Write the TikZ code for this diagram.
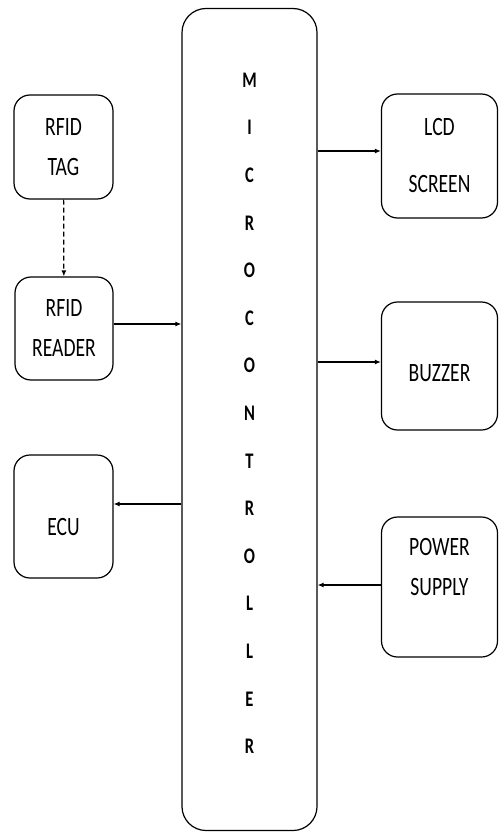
\documentclass[tikz,border=0pt]{standalone}
\usepackage{fontspec}
\usepackage{graphicx}
\setmainfont{Carlito}[BoldFont={Carlito Bold}]
\usetikzlibrary{arrows.meta}

% letters in the drawing are set a little taller than wide
\newcommand{\tall}[1]{\scalebox{1}[1.35]{#1}}

\tikzset{
  block/.style={draw, line width=1.2pt, rounded corners=16pt, align=center,
    inner sep=0pt, font=\fontsize{19.6pt}{40pt}\selectfont},
  micro/.style={draw, line width=1.2pt, rounded corners=24pt},
  letter/.style={font=\fontsize{16.5pt}{18pt}\selectfont\bfseries},
  flow/.style={line width=1.2pt, -{Latex[length=6pt,width=5pt]}},
}

\begin{document}
\begin{tikzpicture}[x=1pt, y=-1pt]
    \useasboundingbox (0,0) rectangle (499,832);

    % Controller column
    \node[micro, minimum width=135pt, minimum height=822pt] (mcu) at (249.5,419.5) {};
    \foreach \ch [count=\i from 0] in {M,I,C,R,O,C,O,N,T,R,O,L,L,E,R}
    \node[letter] (mcu\i) at (249.5,{80+47.6*\i}) {\tall{\ch}};

    % Inputs and outputs on the left
    \node[block, minimum width=99pt, minimum height=104pt]
      (tag) at (63.5,147) {\tall{RFID}\\\tall{TAG}};
    \node[block, minimum width=98pt, minimum height=103pt]
      (reader) at (64,328.5) {\tall{RFID}\\\tall{READER}};
    \node[block, minimum width=99pt, minimum height=123pt,
      text height=37pt, text depth=0pt]
      (ecu) at (63.5,516.5) {\tall{ECU}};

    % Peripherals on the right
    \node[block, minimum width=116pt, minimum height=124pt]
      (lcd) at (439.5,156) {\tall{LCD}\\[17pt]\tall{SCREEN}};
    \node[block, minimum width=116pt, minimum height=128pt,
      text height=31pt, text depth=0pt]
      (buzzer) at (439.5,366) {\tall{BUZZER}};
    \node[block, minimum width=116pt, minimum height=140pt, text depth=40pt]
      (power) at (439.5,587) {\tall{POWER}\\\tall{SUPPLY}};

    % Signal paths
    \draw[flow, dash pattern=on 5pt off 3pt] (tag) -- (reader);

    \coordinate (readerout) at ([yshift=4.5pt]reader.east);
    \draw[flow] (readerout) -- (readerout -| mcu.west);

    \coordinate (ecuin) at ([yshift=12.5pt]ecu.east);
    \draw[flow] (ecuin -| mcu.west) -- (ecuin);

    \coordinate (lcdin) at ([yshift=5pt]lcd.west);
    \draw[flow] (lcdin -| mcu.east) -- (lcdin);

    \coordinate (buzzerin) at ([yshift=4pt]buzzer.west);
    \draw[flow] (buzzerin -| mcu.east) -- (buzzerin);

    \coordinate (powerout) at ([yshift=2pt]power.west);
    \draw[flow] (powerout) -- (powerout -| mcu.east);
\end{tikzpicture}
\end{document}
